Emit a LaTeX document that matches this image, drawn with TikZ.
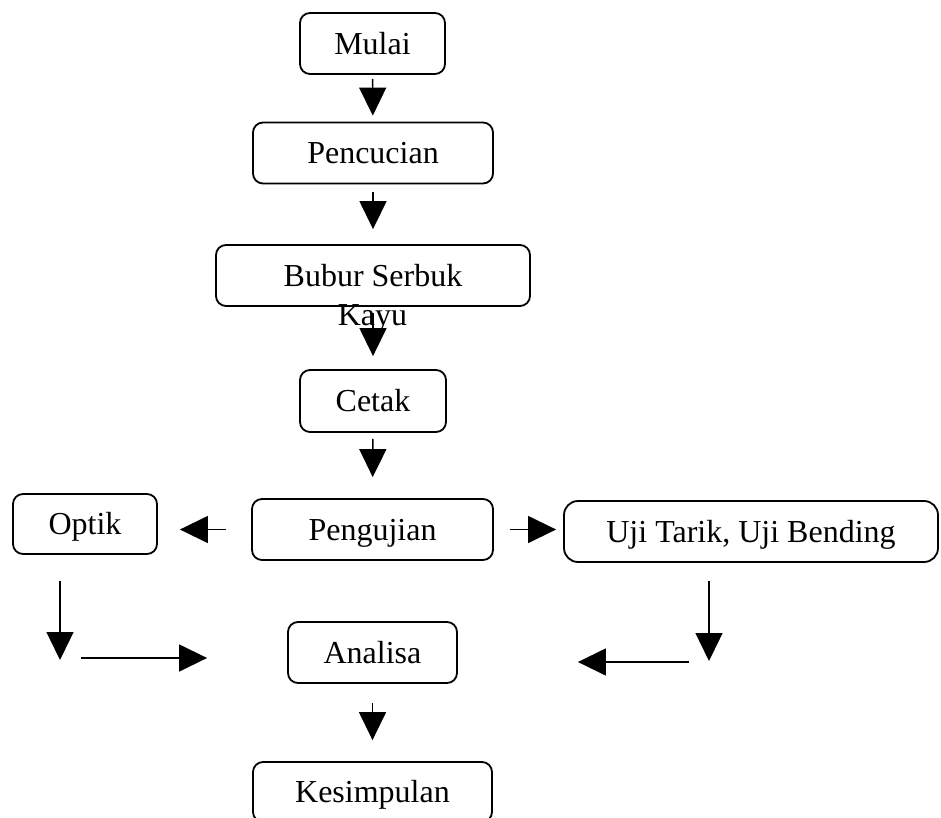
\documentclass[tikz,border=0pt]{standalone}
\usepackage{fontspec}
\setmainfont{Liberation Serif}
\usetikzlibrary{arrows.meta,positioning,calc}

\begin{document}
\begin{tikzpicture}[
    x=0.5pt, y=-0.5pt,
    stepbox/.style={rectangle, draw, rounded corners=5pt, line width=0.9pt, inner sep=0pt, minimum height=30.5pt, text height=10.6pt, text depth=0pt, font=\fontsize{16}{18.5}\selectfont},
    plain/.style={inner sep=0pt, font=\fontsize{16}{18.5}\selectfont},
    arrow/.style={-{Triangle[length=14pt,width=13.5pt]}, line width=0.7pt}
]
\useasboundingbox (0,0) rectangle (941,818);

% Main column
\node[stepbox, minimum width=72.5pt] (mulai) at (372.5,43.5) {Mulai};
\node[stepbox, minimum width=120pt] (pencucian) at (373,153) {Pencucian};
\node[stepbox, minimum width=157pt] (bubur) at (373,275.5) {Bubur Serbuk};
\node[plain, anchor=base] (kayu) at (372.5,325) {Kayu};
\node[stepbox, minimum width=73pt, minimum height=31pt] (cetak) at (373,401) {Cetak};
\node[stepbox, minimum width=120.5pt] (pengujian) at (372.5,529.5) {Pengujian};

% Tests
\node[stepbox, minimum width=72pt, minimum height=30pt] (optik) at (85,524) {Optik};
\node[stepbox, minimum width=187pt, rounded corners=7pt] (uji) at (751,531.5) {Uji Tarik, Uji Bending};

% Result
\node[stepbox, minimum width=84.5pt] (analisa) at (372.5,652.5) {Analisa};
\node[stepbox, minimum width=119.5pt, minimum height=30pt] (kesimpulan) at (372.5,792) {Kesimpulan};

\draw[arrow, shorten <=2pt, shorten >=3pt] (mulai) -- (pencucian);
\draw[arrow, shorten <=4pt, shorten >=7.5pt] (pencucian) -- (bubur);
\draw[arrow, shorten <=3pt, shorten >=6.5pt] (bubur) -- (cetak);
\draw[arrow, shorten <=3pt, shorten >=10.5pt] (cetak) -- (pengujian);

\draw[arrow, shorten <=12.5pt, shorten >=11pt] (pengujian) -- (pengujian -| optik.east);
\draw[arrow, shorten <=8pt, shorten >=3.5pt] (pengujian) -- (pengujian -| uji.west);

% Into Analisa
\coordinate (optikdown) at (60,660);
\coordinate (optikturn) at (81,658);
\coordinate (ujidown) at (709,661);
\coordinate (ujiturn) at (689,662);
\draw[arrow, shorten <=13pt] (optik.south -| optikdown) -- (optikdown);
\draw[arrow, shorten >=40pt] (optikturn) -- (optikturn -| analisa.west);
\draw[arrow, shorten <=9pt] (uji.south -| ujidown) -- (ujidown);
\draw[arrow, shorten >=60pt] (ujiturn) -- (ujiturn -| analisa.east);

\draw[arrow, shorten <=9.5pt, shorten >=10.5pt] (analisa) -- (kesimpulan);

\end{tikzpicture}
\end{document}
